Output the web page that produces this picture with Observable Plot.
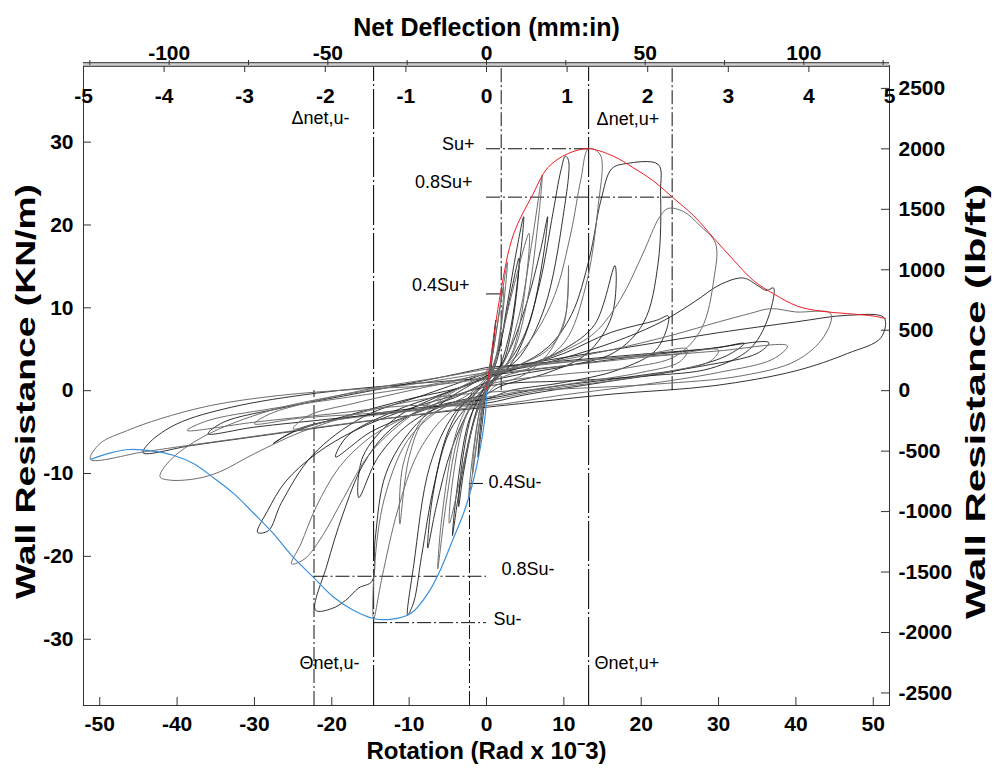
<!DOCTYPE html>
<html><head><meta charset="utf-8">
<script src="https://cdn.jsdelivr.net/npm/d3@7"></script>
<script src="https://cdn.jsdelivr.net/npm/@observablehq/plot@0.6"></script>
<style>body{margin:0;background:#fff}</style>
</head><body><div id="chart"></div>
<script>
// ---------- axis tick labels ----------
const rotationTicks = [-50, -40, -30, -20, -10, 0, 10, 20, 30, 40, 50];      // mrad
const kNTicks = [-30, -20, -10, 0, 10, 20, 30];                               // kN/m
const lbTicks = [-2500, -2000, -1500, -1000, -500, 0, 500, 1000, 1500, 2000, 2500]; // lb/ft
const inchTicks = [-5, -4, -3, -2, -1, 0, 1, 2, 3, 4, 5];
const mmLabelTicks = [-100, -50, 0, 50, 100];
const mmMinorTicks = [-125, -100, -75, -50, -25, 0, 25, 50, 75, 100, 125];

// ---------- unit conversions ----------
const LB_PER_KN = 68.52;           // lb/ft per kN/m
const MRAD_PER_IN = 10.42;         // rotation per inch of net deflection
const MRAD_PER_MM = MRAD_PER_IN / 25.4;

// ---------- characteristic values ----------
const SU_POS = 29.2, SU_NEG = -28.0;             // kN/m
const THETA_U_POS = 13.2, THETA_U_NEG = -14.6;   // mrad at Su
const X08_POS = 24.0, X08_NEG = -22.3;           // mrad at 0.8Su (post peak)
const X04_POS = 1.9, X04_NEG = -2.2;             // mrad at 0.4Su (pre peak)

// ---------- envelopes [rotation, resistance] ----------
const envelopePos = [[0,0],[1.8,11.7],[3.5,18.9],[6.0,23.7],[7.9,26.9],[10.5,28.6],[13.2,29.2],[16.4,28.3],[19.0,26.9],[21.6,25.3],[24.1,23.3],[26.8,21.1],[29.4,18.4],[32.0,15.7],[34.5,13.3],[37.1,11.7],[40.2,10.2],[43.2,9.6],[46.7,9.3],[50.1,9.0],[51.6,8.7]];
const envelopeNeg = [[0,0],[-0.1,-2.4],[-1.2,-8.8],[-2.7,-14.1],[-4.4,-18.1],[-6.0,-21.7],[-7.6,-24.5],[-9.8,-26.9],[-12.4,-27.6],[-14.6,-27.5],[-17.2,-26.5],[-19.8,-24.9],[-22.4,-22.5],[-25.0,-20.1],[-27.6,-17.2],[-30.1,-14.8],[-32.7,-12.4],[-35.3,-10.5],[-37.9,-8.8],[-40.5,-7.8],[-43.1,-7.3],[-46.1,-7.1],[-48.6,-7.5],[-51.2,-8.3]];

// ---------- hysteresis cycles [rotation, resistance] ----------
const cycle01 = [[0,0],[0.6,4],[1.2,8.5],[1.0,6.5],[0.4,1.5],[0,0.2],[-0.5,-3.5],[-1.1,-8],[-0.9,-5.5],[-0.3,-1],[0,0]];
const cycle02 = [[0,0.4],[0.9,5],[1.9,11],[2.7,15.5],[2.4,12],[1.4,4.5],[0.4,1.2],[-0.6,-2.5],[-1.5,-8],[-2.3,-13],[-2.0,-9.5],[-1.0,-3],[0,0.4]];
const cycle03 = [[0,0.8],[1.3,3.5],[2.7,10.5],[3.9,17],[4.8,21],[4.4,16.5],[3.0,7],[1.4,2.2],[0,0.3],[-1.0,-1.6],[-2.3,-6],[-3.6,-12.5],[-4.4,-17.5],[-3.9,-12.5],[-2.4,-4],[-0.9,-0.8],[0,0.8]];
const cycle04 = [[0,1.1],[2.0,3],[4.2,9],[5.8,17.5],[7.2,26],[6.8,21.5],[5.3,11],[3.4,4.5],[1.4,1.8],[0,0.3],[-1.9,-1.6],[-3.8,-6],[-5.2,-13.5],[-6.3,-21.5],[-5.8,-15.5],[-3.9,-5],[-1.9,-1],[0,1.1]];
const cycle05 = [[0,1.4],[2.4,3],[4.8,6.5],[6.9,13],[8.6,21.5],[9.6,26.5],[10.2,28.3],[10.6,27.8],[9.9,21],[7.5,10],[4.4,4.2],[1.6,1.9],[0,0.4],[-2.4,-1.8],[-4.8,-5],[-6.8,-11.5],[-8.4,-20],[-9.4,-25.5],[-10.2,-27.1],[-9.4,-21],[-7.3,-9],[-4.2,-2.8],[-1.5,-0.4],[0,1.4]];
const cycle06 = [[0,1.6],[3,3.4],[6,6.5],[8.8,11.5],[10.9,19],[12.2,25.5],[13.2,29.2],[14.7,28.5],[14.4,22],[12.8,12.5],[10.2,6],[6.2,3],[2.2,1.7],[0,0.7],[-3,-1.4],[-6,-3.7],[-9,-7.8],[-11.5,-14.5],[-13.5,-22.5],[-14.6,-27.6],[-14.5,-21.5],[-13.2,-13],[-10.2,-6],[-6.2,-2.4],[-2.2,-0.4],[0,1.6]];
const cycle07 = [[0,1.8],[4,3],[8,5.3],[11,9.2],[13.3,16],[14.8,23],[16.2,26.8],[18,27.4],[22.2,27.3],[22.5,24],[22.2,15.5],[20.3,8.2],[16.5,4.6],[10.5,3],[4.5,2],[0,1],[-4,-0.8],[-9,-2.5],[-13,-5.2],[-16,-9],[-18.6,-15],[-20.6,-21],[-22.1,-26.5],[-20,-26.3],[-18.2,-25.3],[-16.5,-23.8],[-14.8,-23],[-14.4,-18],[-13,-10],[-9.5,-4.5],[-5,-1],[0,1.8]];
const cycle08 = [[0,2],[5,3],[10,4.8],[14,7],[17.3,11],[20.2,16.5],[22.4,21],[23.5,22],[25.5,21.6],[27.5,20],[29.6,17.8],[29.4,13.5],[27.8,7.5],[24.5,4.2],[18.5,2.8],[10,2],[4,1.4],[0,0.7],[-5,-1],[-10,-3],[-15,-5.6],[-19,-9.2],[-22,-14],[-24,-18.5],[-25.2,-20.9],[-23.5,-20.3],[-21.2,-17.5],[-18.5,-13],[-15,-7.5],[-9,-2.5],[-3,0.6],[0,2]];
const cycle09 = [[0,2.1],[6,3],[12,4.5],[18,6.4],[23,8.5],[27,10.8],[30.2,12.8],[33.2,13.6],[35.2,12.6],[36.2,12.1],[37.1,12.4],[36.3,8.5],[34,5],[29,2.7],[21,1.8],[11,1.2],[3,0.9],[0,0.5],[-5,-0.8],[-11,-2.5],[-17,-4.8],[-22,-7.6],[-26,-11],[-28.3,-14.5],[-29.6,-17.1],[-28.2,-16.9],[-26.5,-13.5],[-22.5,-7.8],[-16,-3.2],[-8,-0.5],[0,2.1]];
const cycle10 = [[0,2.2],[8,3.4],[16,4.9],[24,6.7],[30,8.3],[34,9.3],[36.7,9.9],[40,9.5],[44.5,9.3],[43.6,6.5],[40,3.6],[33,1.8],[22,0.8],[12,0.3],[0,-0.2],[-8,-1],[-16,-2.6],[-24,-5],[-30,-7.6],[-34.5,-9.8],[-37.4,-10.6],[-40.9,-10.8],[-42.2,-10.4],[-41,-8.5],[-36.5,-5.5],[-28,-2.4],[-18,-0.4],[-8,1],[0,2.2]];
const cycle11 = [[0,2.5],[10,4],[20,5.5],[30,7],[40,8.3],[46.7,9.1],[51.4,8.8],[51,6.4],[46.7,4.5],[40,2.4],[29.4,0.6],[16.4,-0.4],[5,-1.5],[0,-2],[-8,-2.8],[-18,-4],[-28,-5.3],[-38,-6.6],[-44.4,-7.5],[-43.5,-6.2],[-40,-4],[-33,-2],[-22,-0.3],[-10,0.8],[0,1.5]];
const cycle12 = [[0,-1.8],[-10,-3],[-20,-4.2],[-30,-5.5],[-40,-6.8],[-44.4,-7.4],[-51.2,-8.3],[-50,-6.4],[-46.4,-4.8],[-42.2,-3.4],[-35.7,-1.8],[-27,-0.6],[-16.3,0.2],[-7.6,0.6],[0,1.5]];
const cycle13 = [[0,1.8],[10,3],[20,4.2],[30,5.2],[33.3,5.7],[31,4.2],[25,2.5],[15,1],[5,-0.5],[0,-1.5],[-8,-2],[-16,-3],[-24,-4.5],[-27.6,-6.4],[-25,-5],[-18,-3],[-10,-1],[-3,0.5],[0,1.8]];
const cycle14 = [[0,2],[10,3],[20,4],[30,4.8],[38.9,5.4],[37,3.8],[30,2.2],[20,0.7],[10,-0.5],[0,-1.8],[-10,-1.8],[-20,-2.8],[-30,-3.8],[-38.7,-4.8],[-36,-3.6],[-28,-2.2],[-18,-0.8],[-8,0.6],[0,2]];
const cycle15 = [[0,1.5],[5,3],[10,4.5],[16,7],[22,8.5],[23.5,9],[22,5],[17,2.5],[10,1],[3,0],[0,-1],[-5,-1.5],[-10,-3],[-15,-5],[-19.5,-8],[-18,-5.5],[-12,-2.5],[-6,-0.5],[0,1.5]];
const cycle16 = [[0,1.5],[4,3],[8,5],[10,8],[10.6,15.1],[10.2,9],[8,4.5],[5,2],[1,0.5],[0,-0.5],[-4,-1.5],[-8,-3.5],[-10,-8],[-11.2,-16.1],[-10.8,-9],[-8,-3],[-4,0],[0,1.5]];
const cycle17 = [[0,1.6],[5,3],[10,5],[14,8],[16.6,15.1],[16.2,9],[13,4.5],[8,2.2],[2,0.6],[0,-0.4],[-5,-1.6],[-10,-4],[-14,-8],[-16.5,-12.9],[-16,-8],[-12,-3.5],[-6,-0.6],[0,1.6]];
const cycle18 = [[0,0.6],[1.5,5],[3.5,12.5],[5.5,19],[5.2,14],[3.5,5],[1.2,1.2],[0,0],[-1.2,-2.5],[-3,-9],[-4.8,-16],[-4.4,-11],[-2.8,-3.5],[-1,-0.4],[0,0.6]];
const cycle19 = [[0,1],[2.5,4],[5,10],[7,17],[7.9,21],[7.3,16],[5.5,8],[3,3],[0.5,0.8],[0,0],[-2,-2],[-4.5,-7],[-6.5,-14],[-7.6,-19],[-7,-13],[-5,-5],[-2.5,-1],[0,1]];
const cycle20 = [[0,0.5],[1,5.5],[2.2,12.5],[2,9],[1,3],[0,0.3],[-0.8,-3],[-1.8,-10],[-1.6,-7],[-0.7,-1.5],[0,0.5]];
const cycle21 = [[0,0.9],[1.6,5],[3.2,12],[4.2,16],[3.8,11],[2.4,4],[0.8,1],[0,-0.2],[-1.4,-3],[-2.9,-9.5],[-3.6,-14],[-3.2,-9],[-1.8,-2.5],[0,0.9]];
const cycle22 = [[0,2.6],[8,3.3],[16,3.9],[24,4.4],[30,4.9],[29,3.6],[24,2.4],[16,1.2],[8,0.2],[0,-1.2],[-8,-2.2],[-16,-2.8],[-24,-3.3],[-30,-4],[-28,-2.8],[-22,-1.2],[-14,0.4],[-6,1.6],[0,2.6]];
const cycle23 = [[0,2.8],[10,3.6],[20,4.4],[28,5],[36.5,5.8],[35,4.5],[28,3],[18,1.6],[8,0.4],[0,-1],[-10,-2.4],[-20,-3.4],[-30,-4.4],[-36,-5.2],[-34,-3.8],[-26,-2],[-16,-0.2],[-6,1.6],[0,2.8]];
const cycle24 = [[0,2.3],[6,3],[12,3.6],[20,4.3],[26,5],[25,3.5],[20,2.2],[12,1],[5,0],[0,-0.8],[-6,-2],[-12,-2.7],[-20,-3.6],[-25,-4.6],[-23,-3],[-17,-1.5],[-9,0.2],[-3,1.4],[0,2.3]];

const cycles = [cycle01,cycle02,cycle03,cycle04,cycle05,cycle06,cycle07,cycle08,cycle09,cycle10,cycle11,cycle12,
                cycle13,cycle14,cycle15,cycle16,cycle17,cycle18,cycle19,cycle20,cycle21,cycle22,cycle23,cycle24];
const cycleRows = cycles.flatMap((c, i) => c.map(([x, y]) => ({cycle: i, x, y})));
const envRows = [
  ...envelopePos.map(([x, y]) => ({side: "pos", x, y})),
  ...envelopeNeg.map(([x, y]) => ({side: "neg", x, y}))
];

// ---------- layout ----------
const W = 996, H = 778, ML = 83, MR = 107, MT = 65, MB = 73;
const plotW = W - ML - MR, plotH = H - MT - MB;
const X_DOMAIN = [-52.1, 52.1], Y_DOMAIN = [-38.0, 39.25];
const FONT = '"Liberation Sans", Arial, Helvetica, sans-serif';
const DASH = "14,3,2,3";
const LONGDASH = "40,3,2,3";
const bold = {fontWeight: "bold", fill: "#000"};
const note = {fontSize: 18, fill: "#000"};

const vLines = [
  {x: THETA_U_NEG, y1: Y_DOMAIN[0], y2: Y_DOMAIN[1], dash: LONGDASH},
  {x: X08_NEG, y1: Y_DOMAIN[0], y2: 0, dash: DASH},
  {x: X04_NEG, y1: Y_DOMAIN[0], y2: 0.4 * SU_NEG, dash: DASH},
  {x: X04_POS, y1: 0, y2: Y_DOMAIN[1], dash: DASH},
  {x: THETA_U_POS, y1: Y_DOMAIN[0], y2: Y_DOMAIN[1], dash: LONGDASH},
  {x: X08_POS, y1: 0, y2: Y_DOMAIN[1], dash: DASH}
];
const hLines = [
  {y: SU_POS, x1: 0, x2: THETA_U_POS},
  {y: 0.8 * SU_POS, x1: 0, x2: X08_POS},
  {y: 0.4 * SU_POS, x1: 0, x2: X04_POS},
  {y: SU_NEG, x1: THETA_U_NEG, x2: 0},
  {y: 0.8 * SU_NEG, x1: X08_NEG, x2: 0},
  {y: 0.4 * SU_NEG, x1: X04_NEG, x2: 0}
];

const chart = Plot.plot({
  width: W, height: H,
  marginLeft: ML, marginRight: MR, marginTop: MT, marginBottom: MB,
  x: {domain: X_DOMAIN},
  y: {domain: Y_DOMAIN},
  style: {fontFamily: FONT, background: "#fff", color: "#000", overflow: "visible"},
  marks: [
    // reference lines
    Plot.ruleX(vLines.filter(d => d.dash === DASH), {x: "x", y1: "y1", y2: "y2", stroke: "#111", strokeWidth: 1, strokeDasharray: DASH}),
    Plot.ruleX(vLines.filter(d => d.dash === LONGDASH), {x: "x", y1: "y1", y2: "y2", stroke: "#111", strokeWidth: 1.1, strokeDasharray: LONGDASH}),
    Plot.ruleY(hLines, {y: "y", x1: "x1", x2: "x2", stroke: "#111", strokeWidth: 1, strokeDasharray: DASH}),
    // hysteresis cycles
    Plot.line(cycleRows.filter(d => d.cycle % 2 === 0), {x: "x", y: "y", z: "cycle", stroke: "#1c1c1c", strokeWidth: 0.9, curve: "catmull-rom"}),
    Plot.line(cycleRows.filter(d => d.cycle % 2 === 1), {x: "x", y: "y", z: "cycle", stroke: "#6e6e6e", strokeWidth: 1, curve: "catmull-rom"}),
    // envelopes
    Plot.line(envRows.filter(d => d.side === "pos"), {x: "x", y: "y", stroke: "#ee1c25", strokeWidth: 1, curve: "catmull-rom"}),
    Plot.line(envRows.filter(d => d.side === "neg"), {x: "x", y: "y", stroke: "#3a8fd9", strokeWidth: 1.2, curve: "catmull-rom"}),
    // frame
    Plot.frame({stroke: "#333", strokeWidth: 1}),
    Plot.ruleY([Y_DOMAIN[1]], {stroke: "#555", strokeWidth: 5, dy: -1}),
    Plot.ruleY([Y_DOMAIN[1]], {stroke: "#cfcfcf", strokeWidth: 2.4, dy: -1}),
    // inward ticks
    Plot.tickX(rotationTicks, {x: d => d, stroke: "#333", insetTop: plotH - 8}),
    Plot.tickY(kNTicks, {y: d => d, stroke: "#333", insetRight: plotW - 8}),
    Plot.tickY(lbTicks.map(v => v / LB_PER_KN), {y: d => d, stroke: "#333", insetLeft: plotW - 8}),
    Plot.tickX(mmMinorTicks.map(v => v * MRAD_PER_MM), {x: d => d, stroke: "#333", insetTop: -5, insetBottom: plotH}),
    Plot.tickX(inchTicks.map(v => v * MRAD_PER_IN), {x: d => d, stroke: "#333", insetTop: 1, insetBottom: plotH - 7}),
    // axes
    Plot.axisX(rotationTicks, {anchor: "bottom", tickSize: 0, tickPadding: 11, fontSize: 21, ...bold, label: null, tickFormat: d => String(d)}),
    Plot.axisY(kNTicks, {anchor: "left", tickSize: 0, tickPadding: 10, fontSize: 21, ...bold, label: null, tickFormat: d => String(d)}),
    Plot.axisY(lbTicks.map(v => v / LB_PER_KN), {anchor: "right", tickSize: 0, tickPadding: 9, fontSize: 21, ...bold, label: null,
      tickFormat: d => String(Math.round(d * LB_PER_KN))}),
    Plot.text(inchTicks, {x: d => d * MRAD_PER_IN, frameAnchor: "top", dy: 23, text: d => String(d), fontSize: 21, ...bold}),
    Plot.text(mmLabelTicks, {x: d => d * MRAD_PER_MM, frameAnchor: "top", dy: -20, text: d => String(d), fontSize: 21, ...bold}),
    // axis titles
    Plot.text(["Net Deflection (mm:in)"], {frameAnchor: "top", dy: -47, fontSize: 25, ...bold}),
    Plot.text(["Rotation (Rad x 10ˉ3)"], {frameAnchor: "bottom", dy: 53, fontSize: 24, ...bold}),
    Plot.text(["Wall Resistance (KN/m)"], {frameAnchor: "left", textAnchor: "middle", dx: -57, dy: 6, rotate: -90, fontSize: 27, ...bold, className: "ylabel-left"}),
    Plot.text(["Wall Resistance (lb/ft)"], {frameAnchor: "right", textAnchor: "middle", dx: 87, dy: 16, rotate: -90, fontSize: 27, ...bold, className: "ylabel-right"}),
    // annotations
    Plot.text([SU_POS], {x: 0, y: d => d, text: () => "Su+", textAnchor: "end", dx: -12, dy: -5, ...note}),
    Plot.text([0.8 * SU_POS], {x: 0, y: d => d, text: () => "0.8Su+", textAnchor: "end", dx: -14, dy: -15, ...note}),
    Plot.text([0.4 * SU_POS], {x: 0, y: d => d, text: () => "0.4Su+", textAnchor: "end", dx: -17, dy: -9, ...note}),
    Plot.text([0.4 * SU_NEG], {x: 0, y: d => d, text: () => "0.4Su-", textAnchor: "start", dx: 2, dy: -1, ...note}),
    Plot.text([0.8 * SU_NEG], {x: 0, y: d => d, text: () => "0.8Su-", textAnchor: "start", dx: 15, dy: -7, ...note}),
    Plot.text([SU_NEG], {x: 0, y: d => d, text: () => "Su-", textAnchor: "start", dx: 7, dy: -3, ...note}),
    Plot.text([THETA_U_NEG], {x: d => d, frameAnchor: "top", text: () => "Δnet,u-", textAnchor: "end", dx: -24, dy: 46, ...note}),
    Plot.text([THETA_U_POS], {x: d => d, frameAnchor: "top", text: () => "Δnet,u+", textAnchor: "start", dx: 8, dy: 47, ...note}),
    Plot.text([THETA_U_NEG], {x: d => d, frameAnchor: "bottom", text: () => "Θnet,u-", textAnchor: "end", dx: -14, dy: -37, ...note}),
    Plot.text([THETA_U_POS], {x: d => d, frameAnchor: "bottom", text: () => "Θnet,u+", textAnchor: "start", dx: 6, dy: -37, ...note})
  ]
});
// the rotated axis titles are drawn stretched along their length in the reference
d3.select(chart).selectAll(".ylabel-left text").attr("textLength", 415).attr("lengthAdjust", "spacingAndGlyphs");
d3.select(chart).selectAll(".ylabel-right text").attr("textLength", 435).attr("lengthAdjust", "spacingAndGlyphs");
document.getElementById("chart").appendChild(chart);
</script>
</body></html>
